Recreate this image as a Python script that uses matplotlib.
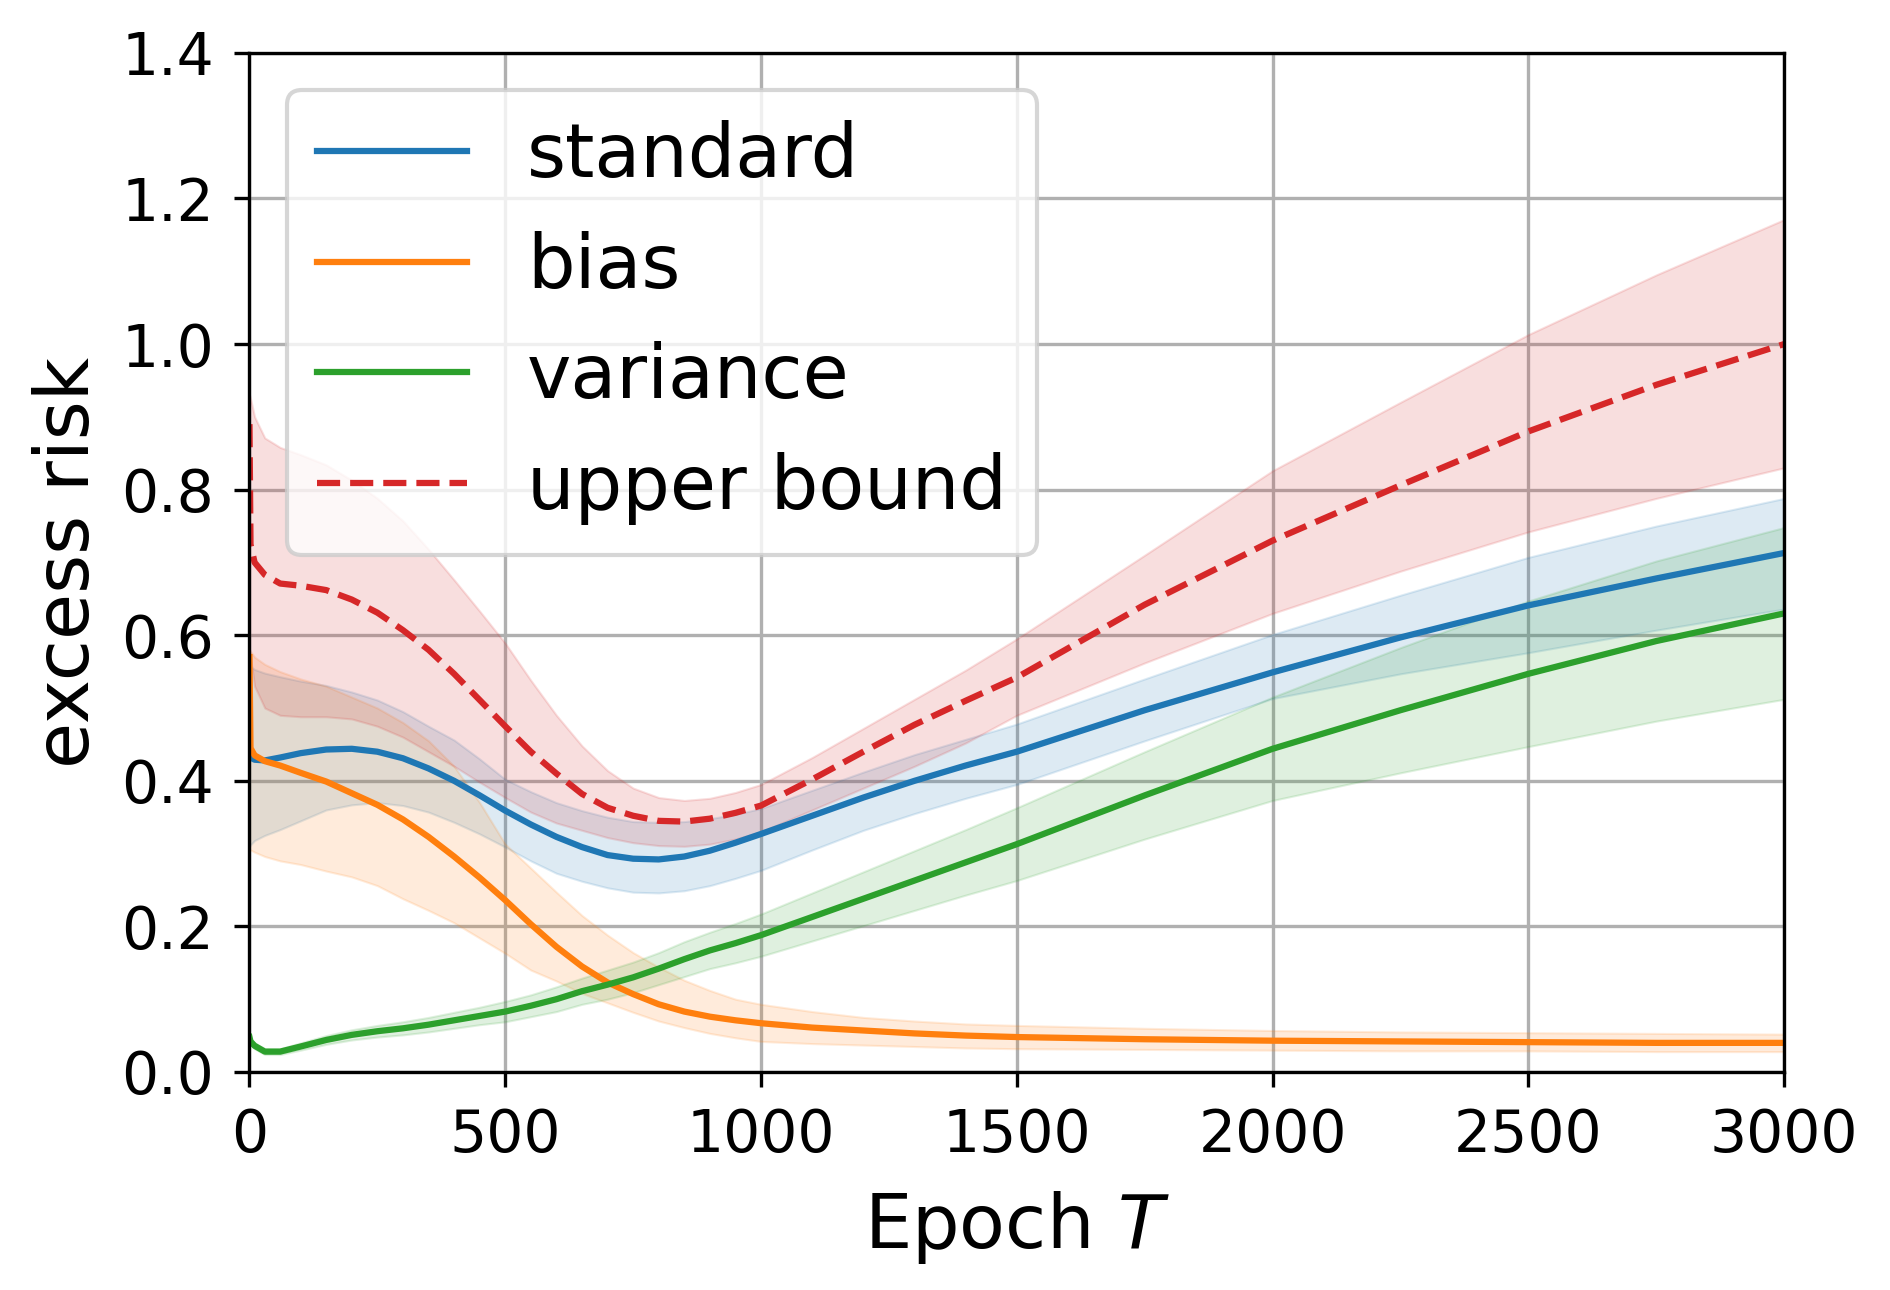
import numpy as np
import matplotlib.pyplot as plt

# values: line plus lower/upper edge of each shaded band
epochs = [0, 2, 10, 30, 60, 100, 150, 200, 250, 300, 350, 400, 450, 500, 550, 600, 650,
          700, 750, 800, 850, 900, 950, 1000, 1100, 1200, 1300, 1400, 1500, 1750, 2000,
          2250, 2500, 2750, 3000]

standard_mean = [0.435, 0.432, 0.429, 0.428, 0.432, 0.438, 0.443, 0.444, 0.440, 0.431, 0.417,
                 0.400, 0.380, 0.359, 0.340, 0.323, 0.309, 0.298, 0.293, 0.292, 0.296, 0.304,
                 0.315, 0.327, 0.352, 0.377, 0.400, 0.421, 0.440, 0.497, 0.549, 0.597, 0.641,
                 0.678, 0.713]
standard_upper = [0.560, 0.557, 0.553, 0.548, 0.543, 0.537, 0.531, 0.522, 0.511, 0.495, 0.475,
                  0.456, 0.430, 0.402, 0.385, 0.370, 0.359, 0.350, 0.344, 0.343, 0.344, 0.348,
                  0.354, 0.362, 0.387, 0.412, 0.436, 0.457, 0.478, 0.540, 0.601, 0.655, 0.707,
                  0.750, 0.788]
standard_lower = [0.310, 0.312, 0.318, 0.325, 0.333, 0.345, 0.360, 0.367, 0.370, 0.366, 0.357,
                  0.343, 0.327, 0.309, 0.290, 0.273, 0.262, 0.253, 0.247, 0.246, 0.249, 0.256,
                  0.266, 0.277, 0.305, 0.332, 0.355, 0.376, 0.395, 0.455, 0.513, 0.547, 0.576,
                  0.607, 0.636]

bias_mean = [0.570, 0.445, 0.435, 0.427, 0.421, 0.411, 0.399, 0.383, 0.367, 0.347, 0.323,
             0.296, 0.267, 0.236, 0.203, 0.172, 0.145, 0.123, 0.107, 0.093, 0.083, 0.076,
             0.071, 0.067, 0.061, 0.057, 0.053, 0.050, 0.048, 0.045, 0.043, 0.042, 0.041,
             0.040, 0.040]
bias_upper = [0.580, 0.578, 0.570, 0.560, 0.550, 0.540, 0.530, 0.515, 0.500, 0.480, 0.455,
              0.420, 0.370, 0.313, 0.280, 0.247, 0.215, 0.188, 0.164, 0.144, 0.126, 0.112,
              0.100, 0.093, 0.083, 0.075, 0.070, 0.066, 0.064, 0.060, 0.057, 0.055, 0.054,
              0.053, 0.052]
bias_lower = [0.305, 0.305, 0.302, 0.296, 0.290, 0.285, 0.276, 0.268, 0.256, 0.238, 0.222,
              0.205, 0.184, 0.163, 0.140, 0.125, 0.108, 0.095, 0.082, 0.070, 0.061, 0.053,
              0.047, 0.042, 0.039, 0.037, 0.035, 0.033, 0.032, 0.031, 0.030, 0.029, 0.029,
              0.028, 0.028]

variance_mean = [0.048, 0.042, 0.036, 0.028, 0.028, 0.035, 0.044, 0.051, 0.056, 0.060, 0.065,
                 0.071, 0.077, 0.083, 0.091, 0.100, 0.111, 0.120, 0.130, 0.142, 0.155, 0.167,
                 0.177, 0.188, 0.213, 0.238, 0.263, 0.288, 0.313, 0.380, 0.444, 0.497, 0.547,
                 0.592, 0.630]
variance_upper = [0.052, 0.046, 0.040, 0.032, 0.032, 0.040, 0.050, 0.058, 0.064, 0.069, 0.075,
                  0.082, 0.089, 0.097, 0.106, 0.117, 0.129, 0.140, 0.151, 0.164, 0.179, 0.192,
                  0.204, 0.217, 0.246, 0.275, 0.304, 0.333, 0.363, 0.440, 0.515, 0.583, 0.647,
                  0.702, 0.748]
variance_lower = [0.044, 0.038, 0.032, 0.024, 0.024, 0.030, 0.038, 0.044, 0.048, 0.051, 0.055,
                  0.060, 0.065, 0.069, 0.076, 0.083, 0.093, 0.100, 0.109, 0.120, 0.131, 0.142,
                  0.150, 0.159, 0.180, 0.201, 0.222, 0.243, 0.263, 0.320, 0.373, 0.411, 0.447,
                  0.482, 0.512]

bound_mean = [0.890, 0.725, 0.700, 0.683, 0.671, 0.668, 0.662, 0.649, 0.631, 0.607, 0.580,
              0.547, 0.511, 0.475, 0.440, 0.410, 0.382, 0.363, 0.352, 0.345, 0.344, 0.348,
              0.356, 0.366, 0.402, 0.440, 0.477, 0.510, 0.542, 0.642, 0.730, 0.806, 0.880,
              0.944, 1.000]
bound_upper = [0.930, 0.925, 0.900, 0.871, 0.858, 0.848, 0.834, 0.813, 0.788, 0.757, 0.718,
               0.676, 0.633, 0.589, 0.538, 0.490, 0.448, 0.414, 0.390, 0.377, 0.373, 0.376,
               0.384, 0.395, 0.432, 0.472, 0.512, 0.552, 0.595, 0.710, 0.826, 0.920, 1.013,
               1.095, 1.171]
bound_lower = [0.580, 0.570, 0.530, 0.500, 0.490, 0.488, 0.488, 0.485, 0.475, 0.460, 0.440,
               0.420, 0.398, 0.377, 0.357, 0.342, 0.332, 0.322, 0.315, 0.311, 0.310, 0.313,
               0.320, 0.330, 0.360, 0.390, 0.420, 0.452, 0.490, 0.562, 0.630, 0.688, 0.742,
               0.788, 0.830]

series = [
    ("standard", standard_mean, standard_lower, standard_upper, "tab:blue", "-"),
    ("bias", bias_mean, bias_lower, bias_upper, "tab:orange", "-"),
    ("variance", variance_mean, variance_lower, variance_upper, "tab:green", "-"),
    ("upper bound", bound_mean, bound_lower, bound_upper, "tab:red", "--"),
]

fig, ax = plt.subplots(figsize=(6.3, 4.3), dpi=300)
fig.subplots_adjust(left=0.132, right=0.944, bottom=0.169, top=0.959)

for label, mean, lower, upper, color, ls in series:
    ax.plot(epochs, mean, color=color, linestyle=ls, linewidth=1.5, label=label)
    ax.fill_between(epochs, lower, upper, color=color, alpha=0.15, linewidth=0.5)

ax.set_xlim(0, 3000)
ax.set_ylim(0, 1.4)
ax.set_xticks(np.arange(0, 3001, 500))
ax.set_yticks(np.arange(0, 1.41, 0.2))
ax.tick_params(labelsize=14, pad=5)
ax.grid(True)
ax.set_axisbelow(True)
ax.set_xlabel('Epoch $T$', fontsize=18, labelpad=6)
ax.set_ylabel('excess risk', fontsize=18, labelpad=4)
ax.legend(loc='upper left', fontsize=18)

fig.savefig('out.png', dpi=300)
